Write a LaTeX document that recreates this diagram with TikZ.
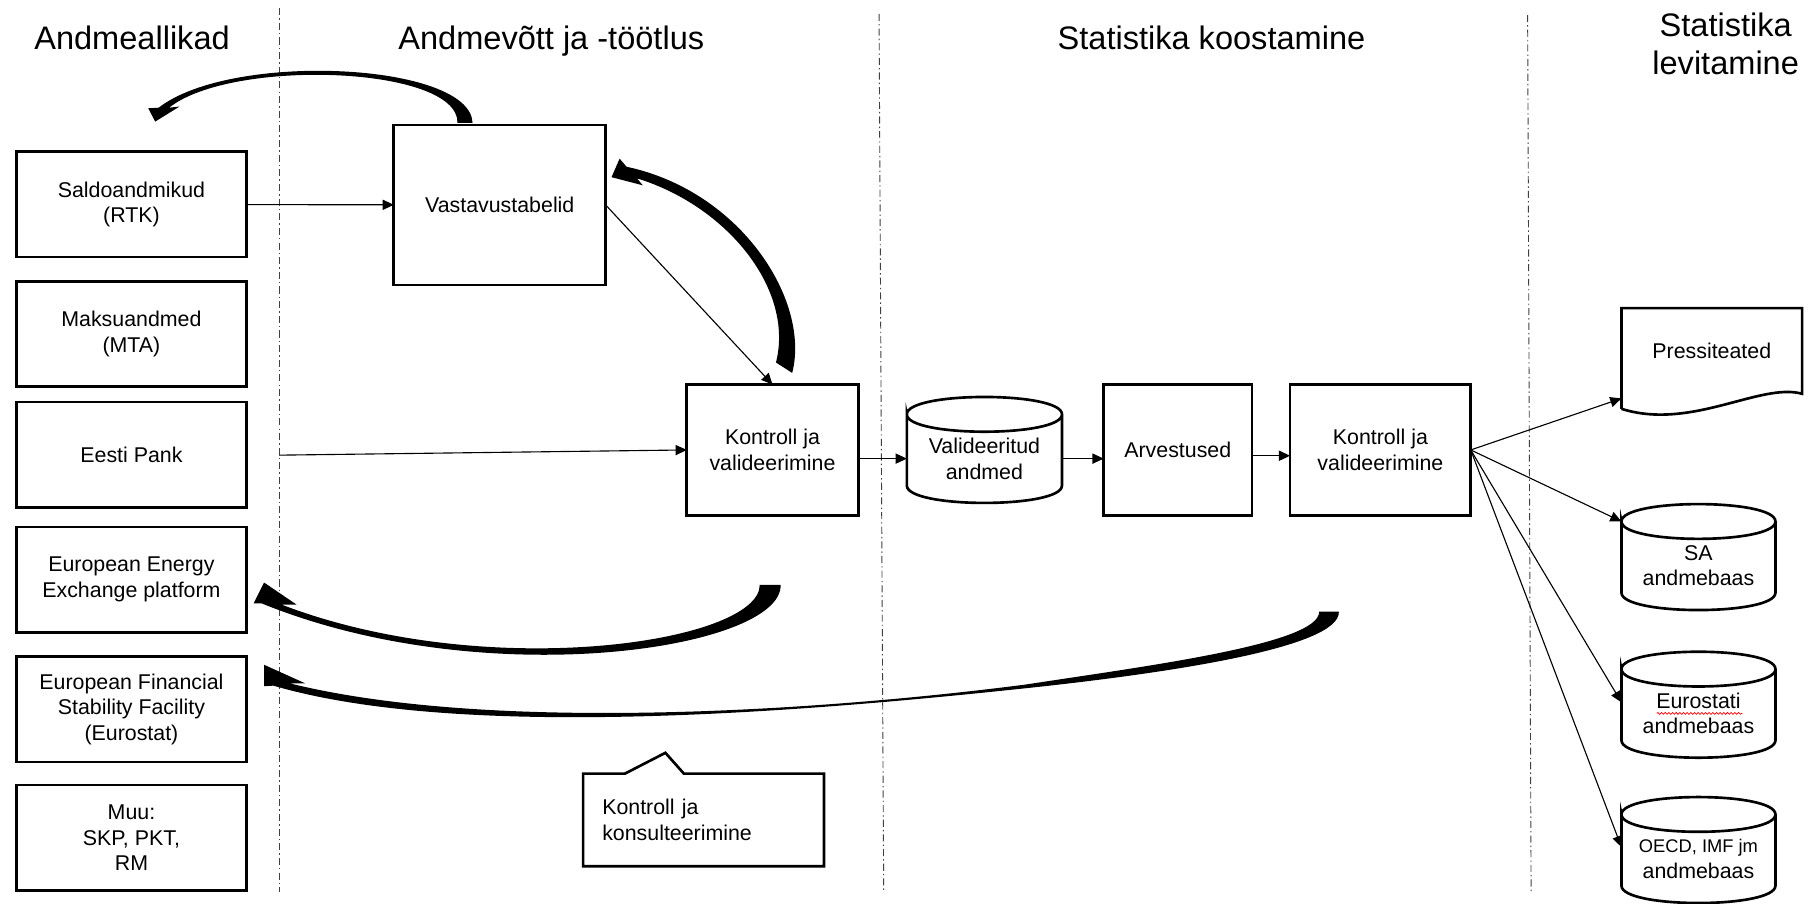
\documentclass[tikz,border=0pt]{standalone}
\usepackage{fontspec}
\setmainfont{Liberation Sans}
\usetikzlibrary{positioning,calc,arrows.meta,decorations.pathmorphing}

\begin{document}
\begin{tikzpicture}[
  x=0.02cm, y=-0.02cm,
  boxline/.style={line width=1.3pt},
  srcbox/.style={rectangle, draw, boxline, outer sep=0pt, inner sep=1pt, minimum width=3.98cm, minimum height=1.82cm, align=center, font=\fontsize{10.5}{12.6}\selectfont},
  stepbox/.style={rectangle, draw, boxline, outer sep=0pt, inner sep=1pt, minimum height=2.26cm, align=center, font=\fontsize{10.5}{12.6}\selectfont},
  dbnode/.style={rectangle, outer sep=0pt, inner sep=0pt, minimum width=2.66cm, minimum height=1.53cm, align=center, font=\fontsize{10.5}{12.6}\selectfont},
  heading/.style={align=center, font=\fontsize{16}{19}\selectfont},
  flow/.style={-{Triangle[length=5.5pt,width=5pt]}, line width=0.55pt},
  bigarrow/.style={fill=black, draw=none},
  divider/.style={line width=0.45pt, black!75, dash pattern=on 3.5pt off 1.5pt on 0.7pt off 1.5pt}
]
\useasboundingbox (0,0) rectangle (1568,780);

% column headings and dividers
\node[heading, anchor=base] (hsrc) at (114,43) {Andmeallikad};
\node[heading, anchor=base] (hproc) at (476,43) {Andmevõtt ja -töötlus};
\node[heading, anchor=base] (hcomp) at (1046,43) {Statistika koostamine};
\node[heading] (hdiss) at (1490,38) {Statistika\\levitamine};
\draw[divider] (241,7) -- (241,770);
\draw[divider] (759,12) -- (763,770);
\draw[divider] (1319,13) -- (1322,770);

% data sources
\node[srcbox] (saldo) at (113.5,176.5) {Saldoandmikud\\(RTK)};
\node[srcbox, below=0.42cm of saldo] (maksu) {Maksuandmed\\(MTA)};
\node[srcbox, below=0.26cm of maksu] (eesti) {Eesti Pank};
\node[srcbox, below=0.34cm of eesti] (energy) {European Energy\\Exchange platform};
\node[srcbox, below=0.42cm of energy] (efsf) {European Financial\\Stability Facility\\(Eurostat)};
\node[srcbox, below=0.40cm of efsf] (muu) {Muu:\\SKP, PKT,\\RM};

% processing steps
\node[stepbox, minimum width=3.66cm, minimum height=2.76cm] (vast) at (431.5,177) {Vastavustabelid};
\node[stepbox, minimum width=2.96cm] (kontr1) at (667,388.5) {Kontroll ja\\valideerimine};
\node[dbnode, minimum width=2.68cm, right=0.84cm of kontr1, yshift=-0.15cm] (valid) {Valideeritud\\andmed};
\node[stepbox, minimum width=2.56cm, right=0.72cm of valid, yshift=0.15cm] (arv) {Arvestused};
\node[stepbox, minimum width=3.12cm, right=0.66cm of arv] (kontr2) {Kontroll ja\\valideerimine};

% outputs
\node[dbnode, minimum width=3.12cm, minimum height=1.48cm] (press) at (1478,303) {Pressiteated};
\node[dbnode] (sadb) at (1466.5,488.5) {SA\\andmebaas};
\node[dbnode, below=1.02cm of sadb] (eurodb) {Eurostati\\andmebaas};
\node[dbnode, below=0.98cm of eurodb] (oecddb) {{\fontsize{9}{11}\selectfont OECD, IMF jm}\\andmebaas};

\node[dbnode, minimum width=4.16cm, minimum height=1.6cm, text width=3.5cm, align=left] (consult) at (607.5,708) {Kontroll ja\\konsulteerimine};

% cylinders, document and callout outlines
\foreach \db in {valid,sadb,eurodb,oecddb}{
  \draw[boxline] (\db.north west) .. controls +(0,-20) and +(0,-20) .. (\db.north east)
    .. controls +(0,20) and +(0,20) .. (\db.north west) -- ($(\db.south west)+(0,-15)$)
    .. controls +(0,20) and +(0,20) .. ($(\db.south east)+(0,-15)$) -- (\db.north east);
}
\draw[boxline] ($(press.south west)+(0,13)$) -- (press.north west) -- (press.north east) -- (press.south east)
  .. controls +(-36,-10) and +(60,19) .. ($(press.south west)+(0,13)$);
\draw[boxline] (consult.north west) -- ++(36,0) -- ++(35,-18) -- ++(16,18) -- (consult.north east)
  -- (consult.south east) -- (consult.south west) -- cycle;
\draw[red, line width=0.35pt, decorate, decoration={snake, amplitude=0.45pt, segment length=1.8pt}]
  ($(eurodb.center)+(-36,0)$) -- ($(eurodb.center)+(38,0)$);

% thin connectors
\coordinate (eestiout) at (241,393);
\draw[flow] (saldo) -- (vast);
\draw[flow] (vast.east) -- (kontr1.north);
\draw[flow] (eestiout) -- (kontr1.west);
\draw[flow] (kontr1.east |- valid.west) -- (valid.west);
\draw[flow] (valid.east) -- (valid.east -| arv.west);
\draw[flow] ([yshift=-0.1cm]arv.east) -- ([yshift=-0.1cm]kontr2.west);
\draw[flow] (kontr2.east) -- ([yshift=-0.08cm]press.south west);
\draw[flow] (kontr2.east) -- (sadb.north west);
\draw[flow] (kontr2.east) -- ([yshift=0.19cm]eurodb.west);
\draw[flow] (kontr2.east) -- ([yshift=0.2cm]oecddb.west);

% feedback arrows
\fill[bigarrow] (395,106) -- (408,106) .. controls (406,54) and (200,44) .. (137,93)
  -- (128,93.5) -- (134,105) -- (155,92) -- (146,93) .. controls (200,50) and (396,57) .. (395,106) -- cycle;
\fill[bigarrow] (670,313) -- (684,322) .. controls (700,260) and (640,165) .. (541,144)
  -- (535,137) -- (528,153) -- (555,160) -- (550,154) .. controls (628,178) and (686,250) .. (670,313) -- cycle;
\fill[bigarrow] (656,505) -- (674,505) .. controls (676,560) and (420,600) .. (226,521)
  -- (219,521) -- (228,503) -- (256,522) -- (243,522) .. controls (420,590) and (656,555) .. (656,505) -- cycle;
\fill[bigarrow] (1139,528) -- (1156,528) .. controls (1158,560) and (1000,582) .. (888,594)
  .. controls (700,614) and (400,640) .. (236,592) -- (228,592.5) -- (228,574) -- (263.5,590) -- (250,590)
  .. controls (420,632) and (700,615) .. (886,591) .. controls (990,575) and (1140,556) .. (1139,528) -- cycle;
\end{tikzpicture}
\end{document}
